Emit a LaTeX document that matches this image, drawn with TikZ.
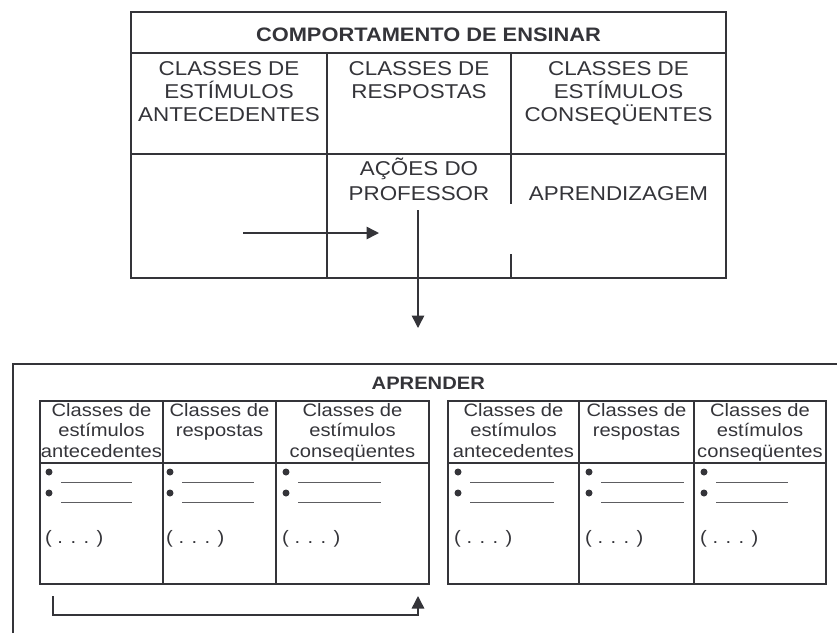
\documentclass[tikz,border=0pt]{standalone}
\usepackage{fontspec}
\setmainfont{Liberation Sans}[FakeStretch=1.12]
\usetikzlibrary{arrows.meta}
\definecolor{ink}{RGB}{52,52,57}
\tikzset{
  box/.style={draw=ink, line width=1.6pt},
  arr/.style={draw=ink, line width=1.5pt, -{Triangle[length=12.5pt,width=12.5pt]}},
  bigtxt/.style={text=ink, inner sep=0pt, align=center, font=\fontsize{20}{22.8}\selectfont},
  smalltxt/.style={text=ink, inner sep=0pt, align=center, font=\fontsize{18}{20.6}\selectfont},
  headtxt/.style={text=ink, inner sep=0pt, font=\fontsize{19.5}{22}\selectfont\bfseries},
  blank/.style={draw=ink!80, line width=0.8pt},
  dot/.style={fill=ink, circle, inner sep=0pt, minimum size=7pt},
}

\begin{document}
\begin{tikzpicture}[x=1pt, y=-1pt]
  \useasboundingbox (0,0) rectangle (837,633);

  % comportamento de ensinar
  \draw[box] (131,12) rectangle (726,278);
  \draw[box] (131,53) -- (726,53);
  \draw[box] (131,154) -- (726,154);
  \draw[box] (327,53) -- (327,278);
  \draw[box] (511,53) -- (511,204);
  \draw[box] (511,254) -- (511,278);

  \node[headtxt] (ensinar) at (428.5,34.7) {COMPORTAMENTO DE ENSINAR};
  \node[bigtxt, anchor=north] (antec) at (229,61.7) {CLASSES DE\\ESTÍMULOS\\ANTECEDENTES};
  \node[bigtxt, anchor=north] (resp) at (419,61.7) {CLASSES DE\\RESPOSTAS};
  \node[bigtxt, anchor=north] (conseq) at (618.5,61.7) {CLASSES DE\\ESTÍMULOS\\CONSEQÜENTES};
  \node[bigtxt, anchor=north, font=\fontsize{20}{25}\selectfont] (acoes) at (419,158) {AÇÕES DO\\PROFESSOR};
  \node[bigtxt, anchor=base] (aprendiz) at (618.5,200) {APRENDIZAGEM};

  \coordinate (antS) at (243,233);
  \coordinate (antE) at (379,233);
  \coordinate (actTop) at (418,210);
  \coordinate (actDown) at (418,328);
  \draw[arr] (antS) -- (antE);
  \draw[arr] (actTop) -- (actDown);

  % aprender
  \draw[box] (13,633) -- (13,364) -- (837,364);
  \node[headtxt, font=\fontsize{18}{20}\selectfont\bfseries] (aprender) at (428.3,382.8) {APRENDER};

  \foreach \a/\b/\c/\d in {40/163/276/429, 448/579/694/826} {
    \draw[box] (\a,401) rectangle (\d,584);
    \draw[box] (\a,463) -- (\d,463);
    \draw[box] (\b,401) -- (\b,584);
    \draw[box] (\c,401) -- (\c,584);
    \node[smalltxt, anchor=north] (ant-\a) at ({(\a+\b)/2},402.8) {Classes de\\estímulos\\antecedentes};
    \node[smalltxt, anchor=north] (resp-\a) at ({(\b+\c)/2},402.8) {Classes de\\respostas};
    \node[smalltxt, anchor=north] (cons-\a) at ({(\c+\d)/2},402.8) {Classes de\\estímulos\\conseqüentes};
  }

  \foreach \x/\w in {49/71, 170/72, 286/83, 458/84, 589/83, 704/72} {
    \node[dot] (b1-\x) at (\x,472) {};
    \node[dot] (b2-\x) at (\x,493) {};
    \draw[blank] (\x+12,482.7) -- +(\w,0);
    \draw[blank] (\x+12,502.7) -- +(\w,0);
    \node[smalltxt, anchor=base west] (etc-\x) at (\x-4,543) {( . . . )};
  }

  \coordinate (loopS) at (53,596);
  \coordinate (loopB) at (53,615);
  \coordinate (loopE) at (418,596);
  \draw[arr] (loopS) -- (loopB) -| (loopE);
\end{tikzpicture}
\end{document}
